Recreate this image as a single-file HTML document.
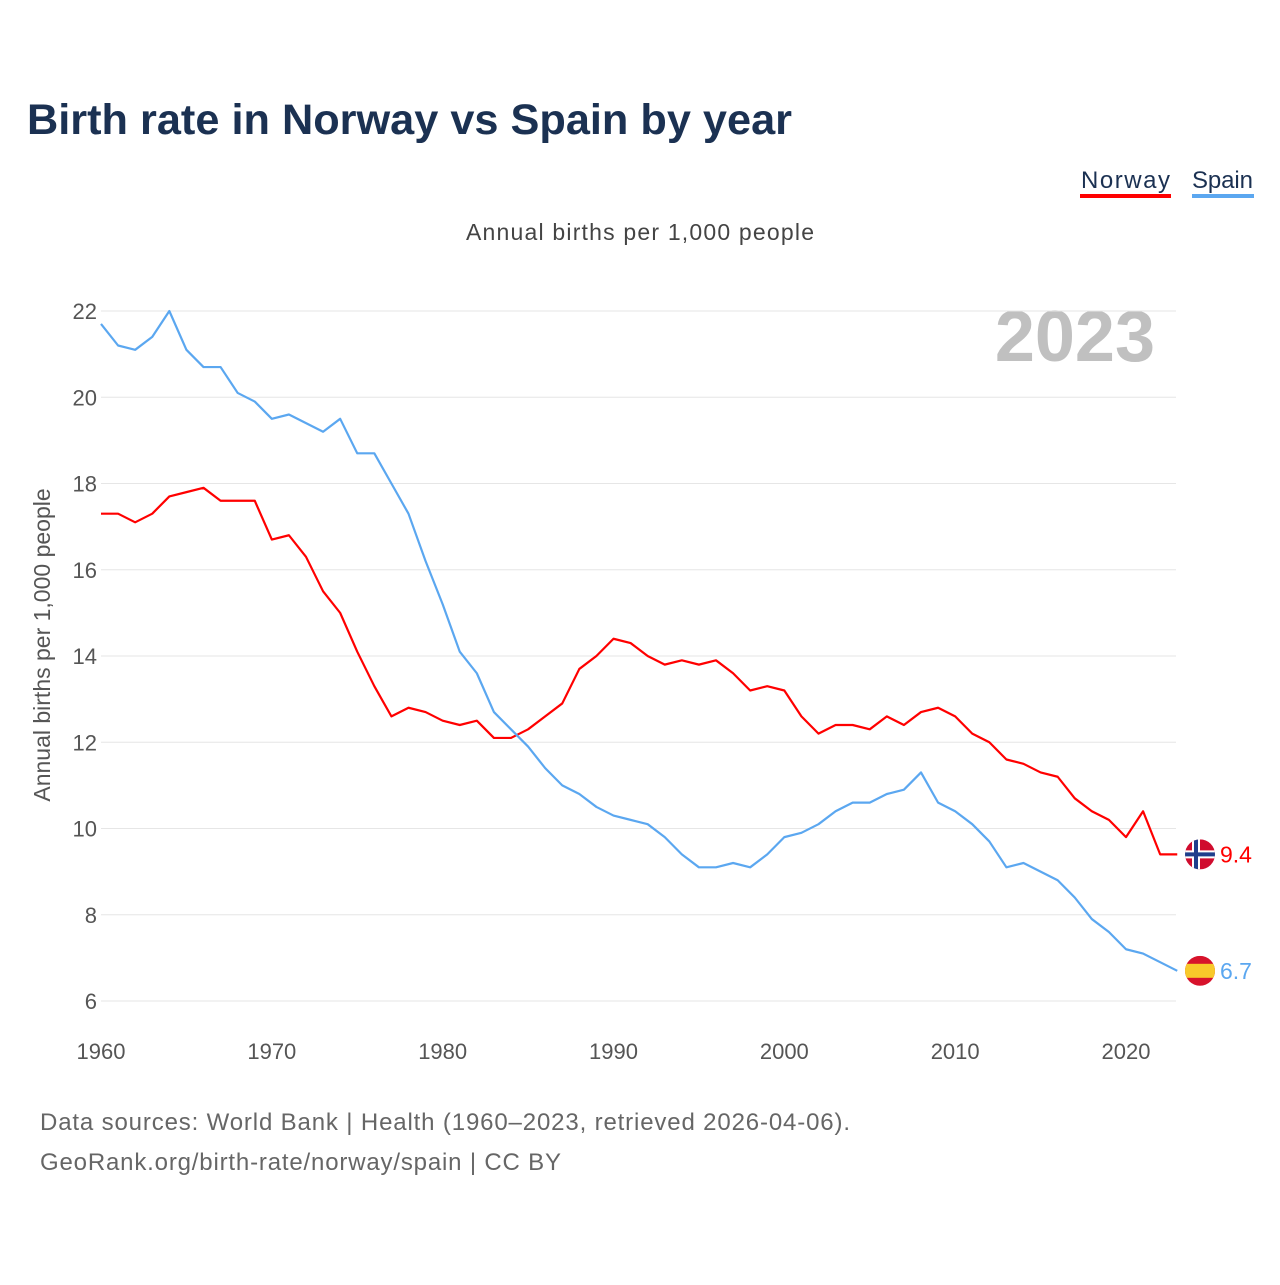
<!DOCTYPE html>
<html><head><meta charset="utf-8"><style>
body{margin:0;background:#fff;font-family:"Liberation Sans",sans-serif;}
</style></head><body>
<svg width="1280" height="1280" xmlns="http://www.w3.org/2000/svg" style="font-family:'Liberation Sans',sans-serif">
<text x="27" y="134" font-size="43" font-weight="bold" fill="#1b3152" textLength="765" lengthAdjust="spacingAndGlyphs">Birth rate in Norway vs Spain by year</text>
<g><text x="1081" y="188" font-size="24" fill="#1b3152" textLength="89">Norway</text><rect x="1080" y="194" width="91" height="4" fill="#ff0000"/></g>
<g><text x="1192" y="188" font-size="24" fill="#1b3152" textLength="61">Spain</text><rect x="1192" y="194" width="62" height="4" fill="#5ba7f0"/></g>
<text x="466" y="240" font-size="23" fill="#444" textLength="348">Annual births per 1,000 people</text>
<text x="1155" y="361" font-size="72" font-weight="bold" fill="#c0c0c0" text-anchor="end">2023</text>
<text transform="translate(50,645) rotate(-90)" font-size="23" fill="#555" text-anchor="middle">Annual births per 1,000 people</text>
<g id="grid"></g><g id="lines"></g>
<text x="40" y="1130" font-size="24" fill="#666" textLength="810">Data sources: World Bank | Health (1960–2023, retrieved 2026-04-06).</text>
<text x="40" y="1170" font-size="24" fill="#666" textLength="521">GeoRank.org/birth-rate/norway/spain | CC BY</text>
</svg>
<script>
const years=[];for(let y=1960;y<=2023;y++)years.push(y);
const norway=[17.3,17.3,17.1,17.3,17.7,17.8,17.9,17.6,17.6,17.6,16.7,16.8,16.3,15.5,15.0,14.1,13.3,12.6,12.8,12.7,12.5,12.4,12.5,12.1,12.1,12.3,12.6,12.9,13.7,14.0,14.4,14.3,14.0,13.8,13.9,13.8,13.9,13.6,13.2,13.3,13.2,12.6,12.2,12.4,12.4,12.3,12.6,12.4,12.7,12.8,12.6,12.2,12.0,11.6,11.5,11.3,11.2,10.7,10.4,10.2,9.8,10.4,9.4,9.4];
const spain=[21.7,21.2,21.1,21.4,22.0,21.1,20.7,20.7,20.1,19.9,19.5,19.6,19.4,19.2,19.5,18.7,18.7,18.0,17.3,16.2,15.2,14.1,13.6,12.7,12.3,11.9,11.4,11.0,10.8,10.5,10.3,10.2,10.1,9.8,9.4,9.1,9.1,9.2,9.1,9.4,9.8,9.9,10.1,10.4,10.6,10.6,10.8,10.9,11.3,10.6,10.4,10.1,9.7,9.1,9.2,9.0,8.8,8.4,7.9,7.6,7.2,7.1,6.9,6.7];
const yTicks=[6,8,10,12,14,16,18,20,22];
const xTicks=[1960,1970,1980,1990,2000,2010,2020];
const X=y=>101+(y-1960)*(1126-101)/60;
const Y=v=>1001-(v-6)*(1001-311)/16;
const NS="http://www.w3.org/2000/svg";
const grid=document.getElementById('grid'),lines=document.getElementById('lines');
function mk(tag,attrs,parent){const e=document.createElementNS(NS,tag);for(const k in attrs)e.setAttribute(k,attrs[k]);parent.appendChild(e);return e;}
yTicks.forEach(t=>{
 const l=mk('line',{x1:101,x2:1176,y1:Y(t),y2:Y(t),stroke:'#e6e6e6','stroke-width':1},grid);
 
 
 const tx=mk('text',{x:97,y:Y(t)+8,'font-size':22,fill:'#555','text-anchor':'end'},grid);tx.textContent=t;
 
 
});
xTicks.forEach(t=>{
 const tx=mk('text',{x:X(t),y:1059,'font-size':22,fill:'#555','text-anchor':'middle'},grid);tx.textContent=t;
 
 
});
function series(vals,color,name){
 const p=mk('polyline',{points:vals.map((v,i)=>X(years[i])+','+Y(v)).join(' '),fill:'none',stroke:color,'stroke-width':2.2,'stroke-linejoin':'round'},lines);
 
 
 const last=vals[vals.length-1],cy=Y(last);
 const g=mk('g',{},lines);
 
 
 mk('clipPath',{id:'c'+name},g).appendChild(document.createElementNS(NS,'circle')).setAttribute('r',15);
 const cp=g.querySelector('circle');cp.setAttribute('cx',1200);cp.setAttribute('cy',cy);
 const fg=mk('g',{'clip-path':'url(#c'+name+')'},g);
 if(name==='norway'){
  mk('rect',{x:1185,y:cy-15,width:30,height:30,fill:'#d00c2e'},fg);
  mk('rect',{x:1185,y:cy-4,width:30,height:8,fill:'#fff'},fg);
  mk('rect',{x:1192,y:cy-15,width:8,height:30,fill:'#fff'},fg);
  mk('rect',{x:1185,y:cy-2,width:30,height:4,fill:'#1f3e8c'},fg);
  mk('rect',{x:1194,y:cy-15,width:4,height:30,fill:'#1f3e8c'},fg);
 }else{
  mk('rect',{x:1185,y:cy-15,width:30,height:30,fill:'#d7132b'},fg);
  mk('rect',{x:1185,y:cy-7,width:30,height:14,fill:'#f8c92a'},fg);
 }
 const t=mk('text',{x:1220,y:cy+8,'font-size':23,fill:color},g);t.textContent=last;
}
series(norway,'#ff0000','norway');
series(spain,'#5ba7f0','spain');
</script>
</body></html>
